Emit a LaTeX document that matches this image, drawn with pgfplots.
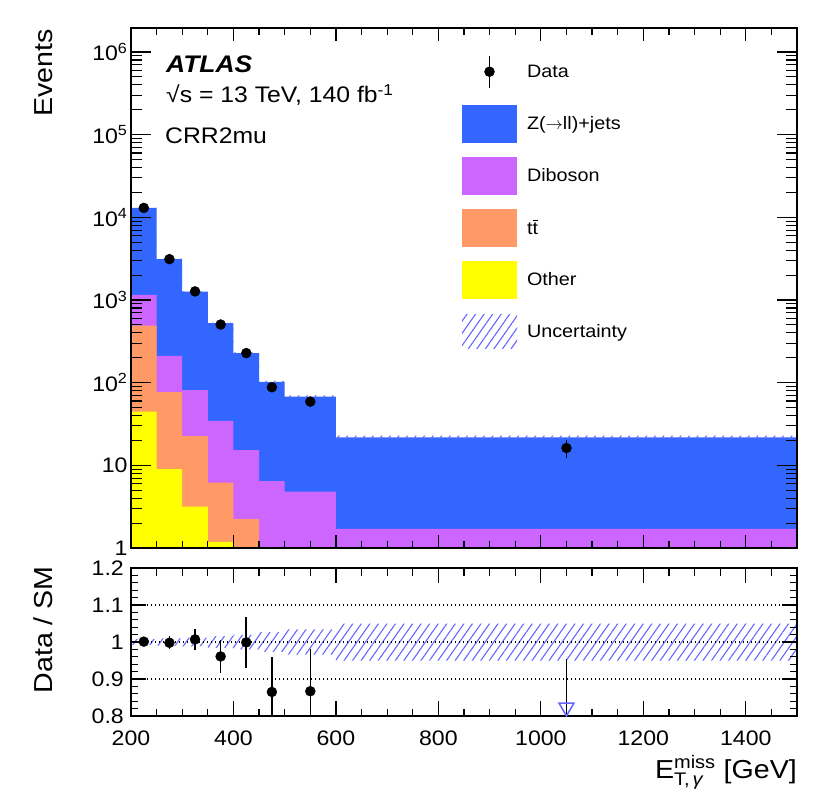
\documentclass[border=0pt]{standalone}
\usepackage{amsmath}
\usepackage{fontspec}
\setmainfont{Liberation Sans}[FakeStretch=1.1]
\usepackage{pgfplots}
\pgfplotsset{compat=1.18}
\usetikzlibrary{patterns.meta}

\definecolor{zjets}{RGB}{51,102,255}
\definecolor{dibo}{RGB}{204,102,255}
\definecolor{ttbar}{RGB}{255,153,102}
\definecolor{other}{RGB}{255,255,0}
\definecolor{hatch}{RGB}{102,102,255}

\newcommand{\tickfont}{\fontsize{21}{25}\selectfont}
\newcommand{\legfont}{\fontsize{18}{22}\selectfont}
\newcommand{\annfont}{\fontsize{22.5}{27}\selectfont}
\newcommand{\titfont}{\fontsize{26}{31}\selectfont}

\pgfplotsset{
  commonframe/.style={
    scale only axis, width=666pt,
    xmin=200, xmax=1500,
    axis on top,
    axis line style={line width=1.2pt},
    every tick/.append style={black, line width=1.2pt},
    tick label style={font=\tickfont},
  },
  hatchstyle/.style={draw=none, pattern={Lines[angle=55,distance=7pt,line width=1.1pt]}, pattern color=hatch},
}

\begin{document}
\begin{tikzpicture}

% ---------------- top panel (plots, x ticks) ----------------
\begin{axis}[commonframe,
  at={(131pt,-548pt)}, anchor=south west, height=520pt,
  ymode=log, ymin=1, ymax=1.95e6,
  xtick={200,400,...,1400}, minor xtick={250,300,...,1450}, xticklabels={},
  ytick=\empty,
  major tick length=13pt, minor tick length=7pt,
  legend style={at={(0.497,0.9525)}, anchor=north west, draw=none, fill=none,
    inner sep=0pt, outer sep=0pt, row sep=14pt, column sep=10pt,
    font=\legfont, nodes={inner sep=0pt}},
  legend cell align=left,
]
% Z+jets (total stack)
\addplot[forget plot, const plot mark left, fill=zjets, draw=none] coordinates {
 (200,1)(200,13000)(250,3130)(300,1260)(350,525)(400,228)(450,102)(500,68)(600,21.8)(1500,21.8)(1500,1)};
% Diboson (cumulative)
\addplot[forget plot, const plot mark left, fill=dibo, draw=none] coordinates {
 (200,1)(200,1150)(250,211)(300,81)(350,34.6)(400,15.3)(450,6.46)(500,4.8)(600,1.70)(1500,1.70)(1500,1)};
% ttbar (cumulative)
\addplot[forget plot, const plot mark left, fill=ttbar, draw=none] coordinates {
 (200,1)(200,490)(250,77)(300,22.6)(350,6.2)(400,2.24)(450,1)(1500,1)};
% Other
\addplot[forget plot, const plot mark left, fill=other, draw=none] coordinates {
 (200,1)(200,44.5)(250,9.0)(300,3.16)(350,1.19)(400,1)(1500,1)};
% uncertainty band on total
\addplot[forget plot, hatchstyle] coordinates {
 (200,13104)(250,13104)(250,3161)(300,3161)(300,1275)(350,1275)(350,533.4)(400,533.4)
 (400,232.6)(450,232.6)(450,104.8)(500,104.8)(500,70.3)(600,70.3)(600,22.9)(1500,22.9)
 (1500,20.7)(600,20.7)(600,65.7)(500,65.7)(500,99.2)(450,99.2)(450,223.4)(400,223.4)
 (400,516.6)(350,516.6)(350,1244.9)(300,1244.9)(300,3098.7)(250,3098.7)(250,12896)(200,12896)};
% data
\addplot[forget plot, only marks, mark=*, mark size=5pt, black,
  error bars/.cd, y dir=both, y explicit, error mark=none,
  error bar style={line width=1.6pt, black}] coordinates {
 (225,13000) +- (0,114)
 (275,3120) +- (0,56)
 (325,1270) +- (0,36)
 (375,505) +- (0,22.5)
 (425,228) +- (0,15.1)
 (475,88) +- (0,9.4)
 (550,59) +- (0,7.7)
 (1050,16.2) +- (0,4.0)};

\addlegendimage{legend image code/.code={
  \path[draw=none,fill=none] (0pt,-19pt) rectangle (55pt,19pt);
  \draw[black,line width=1.6pt] (27.5pt,-16pt) -- (27.5pt,16pt);
  \fill[black] (27.5pt,0pt) circle (5pt);}}
\addlegendentry{Data}
\addlegendimage{legend image code/.code={\fill[zjets,draw=none] (0pt,-19pt) rectangle (55pt,19pt);}}
\addlegendentry{Z($\rightarrow$ll)+jets}
\addlegendimage{legend image code/.code={\fill[dibo,draw=none] (0pt,-19pt) rectangle (55pt,19pt);}}
\addlegendentry{Diboson}
\addlegendimage{legend image code/.code={\fill[ttbar,draw=none] (0pt,-19pt) rectangle (55pt,19pt);}}
\addlegendentry{t$\overline{\mbox{t}}$}
\addlegendimage{legend image code/.code={\fill[other,draw=none] (0pt,-19pt) rectangle (55pt,19pt);}}
\addlegendentry{Other}
\addlegendimage{legend image code/.code={
  \path[draw=none,fill=none] (0pt,-19pt) rectangle (55pt,19pt);
  \path[draw=none, pattern={Lines[angle=55,distance=7pt,line width=1.1pt]}, pattern color=hatch] (0pt,-17pt) rectangle (55pt,17pt);}}
\addlegendentry{Uncertainty}
\end{axis}

% ---------------- top panel overlay (y ticks) ----------------
\begin{axis}[commonframe,
  at={(131pt,-548pt)}, anchor=south west, height=520pt,
  ymode=log, ymin=1, ymax=1.95e6,
  xtick=\empty,
  ytick={1,10,100,1000,10000,100000,1000000},
  yticklabels={1,10,10\textsuperscript{2},10\textsuperscript{3},10\textsuperscript{4},10\textsuperscript{5},10\textsuperscript{6}},
  minor ytick={2,3,4,5,6,7,8,9,20,30,40,50,60,70,80,90,200,300,400,500,600,700,800,900,
    2000,3000,4000,5000,6000,7000,8000,9000,2e4,3e4,4e4,5e4,6e4,7e4,8e4,9e4,
    2e5,3e5,4e5,5e5,6e5,7e5,8e5,9e5},
  major tick length=20pt, minor tick length=11pt,
]
\end{axis}

% ---------------- ratio panel ----------------
\begin{axis}[commonframe,
  at={(131pt,-716pt)}, anchor=south west, height=148pt,
  ymin=0.8, ymax=1.2,
  xtick={200,400,...,1400}, minor xtick={250,300,...,1450},
  xticklabels={200,400,600,800,1000,1200,1400},
  xticklabel style={inner sep=0pt, text height=15pt, text depth=0pt, yshift=-14pt},
  ytick={0.8,0.9,1.0,1.1,1.2}, yticklabels={0.8,0.9,1,1.1,1.2},
  yticklabel style={inner sep=0pt, text height=15pt, text depth=0pt, xshift=-7pt},
  minor ytick={0.82,0.84,0.86,0.88,0.92,0.94,0.96,0.98,1.02,1.04,1.06,1.08,1.12,1.14,1.16,1.18},
  ymajorgrids, grid style={black, line width=1.3pt, dash pattern=on 1.4pt off 2.6pt},
  major tick length=15pt, minor tick length=7.5pt,
]
\addplot[hatchstyle] coordinates {
 (200,1.008)(250,1.008)(250,1.010)(300,1.010)(300,1.012)(350,1.012)(350,1.016)(400,1.016)
 (400,1.020)(450,1.020)(450,1.027)(500,1.027)(500,1.034)(600,1.034)(600,1.050)(1500,1.050)
 (1500,0.950)(600,0.950)(600,0.966)(500,0.966)(500,0.973)(450,0.973)(450,0.980)(400,0.980)
 (400,0.984)(350,0.984)(350,0.988)(300,0.988)(300,0.990)(250,0.990)(250,0.992)(200,0.992)};
\addplot[only marks, mark=*, mark size=5pt, black,
  error bars/.cd, y dir=both, y explicit, error mark=none,
  error bar style={line width=1.6pt, black}] coordinates {
 (225,1.001) +- (0,0.009)
 (275,0.998) +- (0,0.018)
 (325,1.007) +- (0,0.028)
 (375,0.961) +- (0,0.044)
 (425,0.999) +- (0,0.068)
 (475,0.865) +- (0,0.094)
 (550,0.867) +- (0,0.113)};
\addplot[black, line width=1.6pt] coordinates {(1050,0.8)(1050,0.955)};
\addplot[only marks, mark=triangle, mark size=8.5pt,
  mark options={rotate=180, draw=hatch, fill=white, line width=1.5pt}] coordinates {(1050,0.823)};
\end{axis}

% ---------------- texts ----------------
\node[anchor=base west, inner sep=0pt, font=\fontsize{24}{29}\selectfont\bfseries\itshape] at (166pt,-72.7pt) {ATLAS};
\node[anchor=base west, inner sep=0pt, font=\annfont] at (166pt,-102.7pt) {√s = 13 TeV, 140 fb\textsuperscript{-1}};
\node[anchor=base west, inner sep=0pt, font=\annfont] at (165pt,-143.3pt) {CRR2mu};
\node[anchor=base east, rotate=90, inner sep=0pt, font=\titfont] at (52pt,-29pt) {Events};
\node[anchor=base east, rotate=90, inner sep=0pt, font=\titfont] at (52pt,-566pt) {Data / SM};
\node[anchor=base east, inner sep=0pt, font=\titfont] at (797pt,-778pt)
  {E$^{\text{miss}}_{\text{T,\,\itshape γ}}$ [GeV]};

\pgfresetboundingbox
\path (0pt,0pt) rectangle (822pt,-798pt);
\end{tikzpicture}
\end{document}
